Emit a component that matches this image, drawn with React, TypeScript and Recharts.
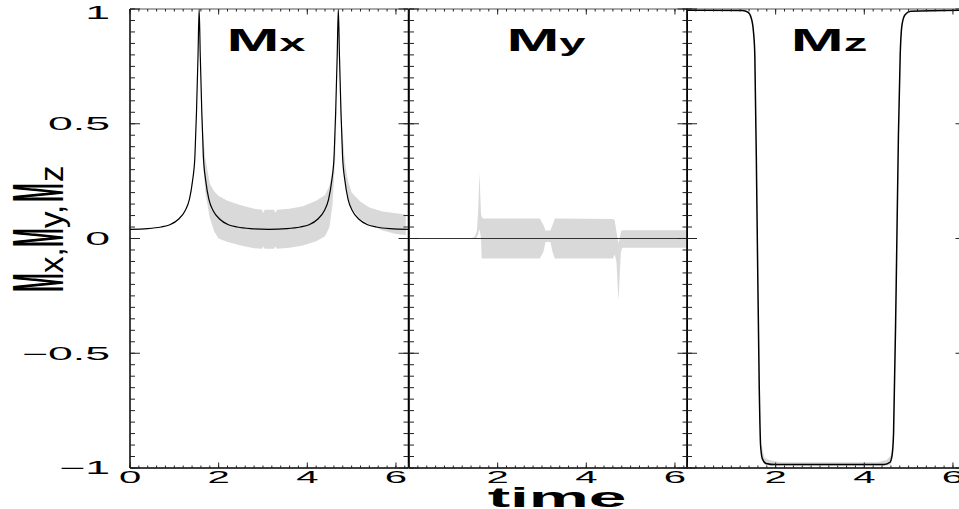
import React from "react";
import { ComposedChart, Line, Area, XAxis, YAxis } from "recharts";

const TWO_PI = 6.2832;
const PANEL_W = 278.5;
const FONT = "'Liberation Sans', Arial, Helvetica, sans-serif";

// time axis
const timeMajor = [0, 2, 4, 6];
const timeMajorLabels = ["0", "2", "4", "6"];
const timeTicks = Array.from({ length: 32 }, (_, i) => +(i * 0.2).toFixed(1));

// magnetisation axis
const mMajor = [-1, -0.5, 0, 0.5, 1];
const mMajorLabels = ["\u22121", "\u22120.5", "0", "0.5", "1"];
const mTicks = Array.from({ length: 41 }, (_, i) => +(-1 + i * 0.05).toFixed(2));

// Mx, black curve
const mxT = [0, 0.4, 0.7, 0.9, 1.1, 1.24, 1.34, 1.41, 1.465, 1.5, 1.535, 1.56, 1.585, 1.62, 1.655, 1.71, 1.78, 1.88, 2.02, 2.22, 2.42, 2.72, 3.13, 3.54, 3.84, 4.04, 4.24, 4.38, 4.48, 4.55, 4.605, 4.64, 4.675, 4.7, 4.725, 4.76, 4.795, 4.85, 4.92, 5.02, 5.16, 5.36, 5.56, 5.86, 6.2832];
const mxV = [0.04, 0.043, 0.05, 0.06, 0.085, 0.12, 0.17, 0.25, 0.36, 0.55, 0.8, 1, 0.8, 0.55, 0.36, 0.25, 0.17, 0.12, 0.085, 0.06, 0.05, 0.043, 0.04, 0.043, 0.05, 0.06, 0.085, 0.12, 0.17, 0.25, 0.36, 0.55, 0.8, 1, 0.8, 0.55, 0.36, 0.25, 0.17, 0.12, 0.085, 0.06, 0.05, 0.043, 0.04];

// Mx, grey envelope (between the spikes and after the second one)
const mxBandAT = [1.6, 1.64, 1.7, 1.8, 1.9, 2.0, 2.2, 2.5, 2.8, 2.98, 3.0, 3.04, 3.25, 3.28, 3.32, 3.6, 3.9, 4.2, 4.4, 4.5, 4.57, 4.63, 4.66];
const mxBandALo = [0.6, 0.35, 0.2, 0.09, 0.03, 0.0, -0.015, -0.03, -0.042, -0.045, -0.035, -0.045, -0.045, -0.035, -0.045, -0.04, -0.03, -0.012, 0.01, 0.05, 0.15, 0.35, 0.55];
const mxBandAHi = [0.65, 0.48, 0.35, 0.24, 0.205, 0.185, 0.165, 0.145, 0.13, 0.125, 0.11, 0.125, 0.125, 0.112, 0.125, 0.13, 0.14, 0.165, 0.19, 0.23, 0.3, 0.45, 0.6];
const mxBandBT = [4.74, 4.78, 4.85, 4.92, 5.0, 5.2, 5.4, 5.7, 6.0, 6.22];
const mxBandBLo = [0.6, 0.4, 0.25, 0.17, 0.13, 0.085, 0.06, 0.035, 0.02, 0.015];
const mxBandBHi = [0.7, 0.5, 0.33, 0.25, 0.2, 0.16, 0.135, 0.118, 0.11, 0.105];

// My, black curve
const myT = [0, 6.2832];
const myV = [0, 0];

// My, grey envelope
const myBandT = [1.42, 1.48, 1.53, 1.56, 1.59, 1.61, 1.625, 1.64, 1.67, 2.95, 3.03, 3.08, 3.19, 3.24, 3.29, 4.6, 4.64, 4.68, 4.705, 4.73, 4.755, 4.78, 4.81, 6.2832];
const myBandLo = [0, 0, 0.005, 0.02, 0.04, 0.02, 0, -0.087, -0.087, -0.087, -0.06, -0.015, -0.015, -0.06, -0.087, -0.087, -0.07, -0.1, -0.2, -0.27, -0.15, -0.06, -0.04, -0.04];
const myBandHi = [0.002, 0.008, 0.03, 0.12, 0.29, 0.18, 0.11, 0.095, 0.087, 0.087, 0.06, 0.035, 0.035, 0.06, 0.087, 0.085, 0.08, 0.03, 0, -0.02, 0, 0.03, 0.036, 0.036];

// Mz, black curve
const mzT = [0, 1.25, 1.38, 1.45, 1.5, 1.53, 1.58, 1.63, 1.66, 1.7, 1.78, 2.0, 4.45, 4.58, 4.63, 4.66, 4.72, 4.77, 4.81, 4.85, 4.92, 5.05, 6.2832];
const mzV = [0.995, 0.993, 0.985, 0.96, 0.9, 0.8, 0.1, -0.65, -0.9, -0.96, -0.98, -0.985, -0.985, -0.975, -0.94, -0.85, -0.2, 0.45, 0.8, 0.93, 0.975, 0.99, 0.995];

// Mz, grey envelope (only visible along the bottom)
const mzBandT = [1.68, 1.75, 1.85, 2.1, 4.3, 4.5, 4.6, 4.64];
const mzBandLo = [-0.95, -0.985, -0.99, -0.99, -0.99, -0.99, -0.985, -0.95];
const mzBandHi = [-0.9, -0.955, -0.965, -0.975, -0.975, -0.965, -0.945, -0.9];

const zip = (t: number[], v: number[]) => t.map((x, i) => ({ t: x, v: v[i] }));
const band = (t: number[], lo: number[], hi: number[]) =>
  t.map((x, i) => ({ t: x, range: [lo[i], hi[i]] }));

const mxLine = zip(mxT, mxV);
const mxBandA = band(mxBandAT, mxBandALo, mxBandAHi);
const mxBandB = band(mxBandBT, mxBandBLo, mxBandBHi);
const myLine = zip(myT, myV);
const myBand = band(myBandT, myBandLo, myBandHi);
const mzLine = zip(mzT, mzV);
const mzBand = band(mzBandT, mzBandLo, mzBandHi);

const near = (a: number, b: number) => Math.abs(a - b) < 1e-6;
const axisStyle = { stroke: "#000", strokeWidth: 1.5 };
const tickLineStyle = { stroke: "#222", strokeWidth: 1 };

// Recharts draws the short (minor) inward tick; majors get an extension here.
const X_MINOR = 2.5;
const Y_MINOR = 5;

const xTick = (side: "top" | "bottom", showZero: boolean) => (p: any) => {
  const { x, y, payload } = p;
  const i = timeMajor.findIndex((m) => near(m, payload.value));
  const dir = side === "top" ? 1 : -1;
  const labelled = side === "bottom" && i >= 0 && (i > 0 || showZero);
  return (
    <g>
      {i >= 0 && <line x1={x} x2={x} y1={y} y2={y + dir * 5.5} stroke="#222" strokeWidth={1} />}
      {labelled && (
        <text
          transform={`translate(${x},${y + 15}) scale(2.5,1)`}
          textAnchor="middle"
          fontSize={16}
          fontFamily={FONT}
          fill="#000"
        >
          {timeMajorLabels[i]}
        </text>
      )}
    </g>
  );
};

const yTick = (side: "left" | "right", labels: boolean) => (p: any) => {
  const { x, y, payload } = p;
  const i = mMajor.findIndex((m) => near(m, payload.value));
  const dir = side === "left" ? 1 : -1;
  return (
    <g>
      {i >= 0 && <line x1={x} x2={x + dir * 10} y1={y} y2={y} stroke="#222" strokeWidth={1} />}
      {labels && i >= 0 && (
        <text
          transform={`translate(${x - 20},${y + (near(payload.value, 1) ? 4 : 0)}) scale(2.55,1)`}
          textAnchor="end"
          dy="0.36em"
          fontSize={17.5}
          fontFamily={FONT}
          fill="#000"
        >
          {mMajorLabels[i]}
        </text>
      )}
    </g>
  );
};

function Panel({
  left,
  yAxisW,
  first,
  children,
}: {
  left: number;
  yAxisW: number;
  first: boolean;
  children: React.ReactNode;
}) {
  return (
    <div style={{ position: "absolute", left: left - yAxisW, top: 0 }}>
      <ComposedChart
        width={yAxisW + PANEL_W + 1}
        height={509}
        margin={{ top: 8, right: 0, bottom: 0, left: 0 }}
      >
        <XAxis
          xAxisId="b"
          dataKey="t"
          type="number"
          domain={[0, TWO_PI]}
          allowDataOverflow
          ticks={timeTicks}
          interval={0}
          height={41}
          tickSize={-X_MINOR}
          tickMargin={X_MINOR}
          tickLine={tickLineStyle}
          tick={xTick("bottom", first)}
          axisLine={axisStyle}
        />
        <XAxis
          xAxisId="top"
          orientation="top"
          dataKey="t"
          type="number"
          domain={[0, TWO_PI]}
          allowDataOverflow
          ticks={timeTicks}
          interval={0}
          height={1}
          tickSize={-X_MINOR}
          tickMargin={X_MINOR}
          tickLine={tickLineStyle}
          tick={xTick("top", false)}
          axisLine={{ stroke: "#555", strokeWidth: 1 }}
        />
        <YAxis
          yAxisId="l"
          type="number"
          domain={[-1, 1]}
          allowDataOverflow
          ticks={mTicks}
          interval={0}
          width={yAxisW}
          tickSize={-Y_MINOR}
          tickMargin={Y_MINOR}
          tickLine={tickLineStyle}
          tick={yTick("left", first)}
          axisLine={axisStyle}
        />
        <YAxis
          yAxisId="r"
          orientation="right"
          type="number"
          domain={[-1, 1]}
          allowDataOverflow
          ticks={mTicks}
          interval={0}
          width={1}
          tickSize={-Y_MINOR}
          tickMargin={Y_MINOR}
          tickLine={tickLineStyle}
          tick={yTick("right", false)}
          axisLine={axisStyle}
        />
        {children}
      </ComposedChart>
    </div>
  );
}

const bandProps = {
  xAxisId: "b",
  yAxisId: "l",
  dataKey: "range",
  type: "linear" as const,
  stroke: "none",
  fill: "#d9d9d9",
  fillOpacity: 1,
  isAnimationActive: false,
  activeDot: false,
  dot: false,
};

const lineProps = {
  xAxisId: "b",
  yAxisId: "l",
  dataKey: "v",
  type: "monotone" as const,
  dot: false,
  activeDot: false,
  isAnimationActive: false,
};

export default function App() {
  return (
    <div
      style={{
        position: "absolute",
        left: 0,
        top: 0,
        width: 959,
        height: 509,
        overflow: "hidden",
        background: "#fff",
      }}
    >
      <Panel left={130} yAxisW={130} first>
        <Area {...bandProps} data={mxBandA} />
        <Area {...bandProps} data={mxBandB} />
        <Line {...lineProps} data={mxLine} stroke="#000" strokeWidth={1.2} />
      </Panel>
      <Panel left={130 + PANEL_W} yAxisW={1} first={false}>
        <Area {...bandProps} data={myBand} />
        <Line {...lineProps} type="linear" data={myLine} stroke="#333" strokeWidth={1} />
      </Panel>
      <Panel left={130 + 2 * PANEL_W} yAxisW={1} first={false}>
        <Area {...bandProps} data={mzBand} />
        <Line {...lineProps} data={mzLine} stroke="#000" strokeWidth={1.5} />
      </Panel>

      <svg
        width={959}
        height={509}
        style={{ position: "absolute", left: 0, top: 0, pointerEvents: "none" }}
        fontFamily={FONT}
      >
        {[
          { x: 266, sub: "x" },
          { x: 546, sub: "y" },
          { x: 829, sub: "z" },
        ].map((t) => (
          <text key={t.sub} transform={`translate(${t.x},51) scale(2.05,1)`} textAnchor="middle" fontWeight="bold" fill="#000">
            <tspan fontSize={31}>M</tspan>
            <tspan fontSize={23}>{t.sub}</tspan>
          </text>
        ))}
        <text transform="translate(557,507) scale(2.5,1)" textAnchor="middle" fontSize={27} fontWeight="bold" fill="#000">
          time
        </text>
        {[
          { y: 292, s: "M", big: true },
          { y: 273, s: "x,", big: false },
          { y: 247, s: "M", big: true },
          { y: 228, s: "y,", big: false },
          { y: 202, s: "M", big: true },
          { y: 182, s: "z", big: false },
        ].map((p, i) =>
          p.big ? (
            <text key={i} transform={`translate(63,${p.y}) rotate(-90) scale(0.31,1)`} fontSize={73} fontWeight="bold" fill="#000">
              {p.s}
            </text>
          ) : (
            <text key={i} transform={`translate(63,${p.y}) rotate(-90)`} fontSize={33} fill="#000">
              {p.s}
            </text>
          )
        )}
      </svg>
    </div>
  );
}
